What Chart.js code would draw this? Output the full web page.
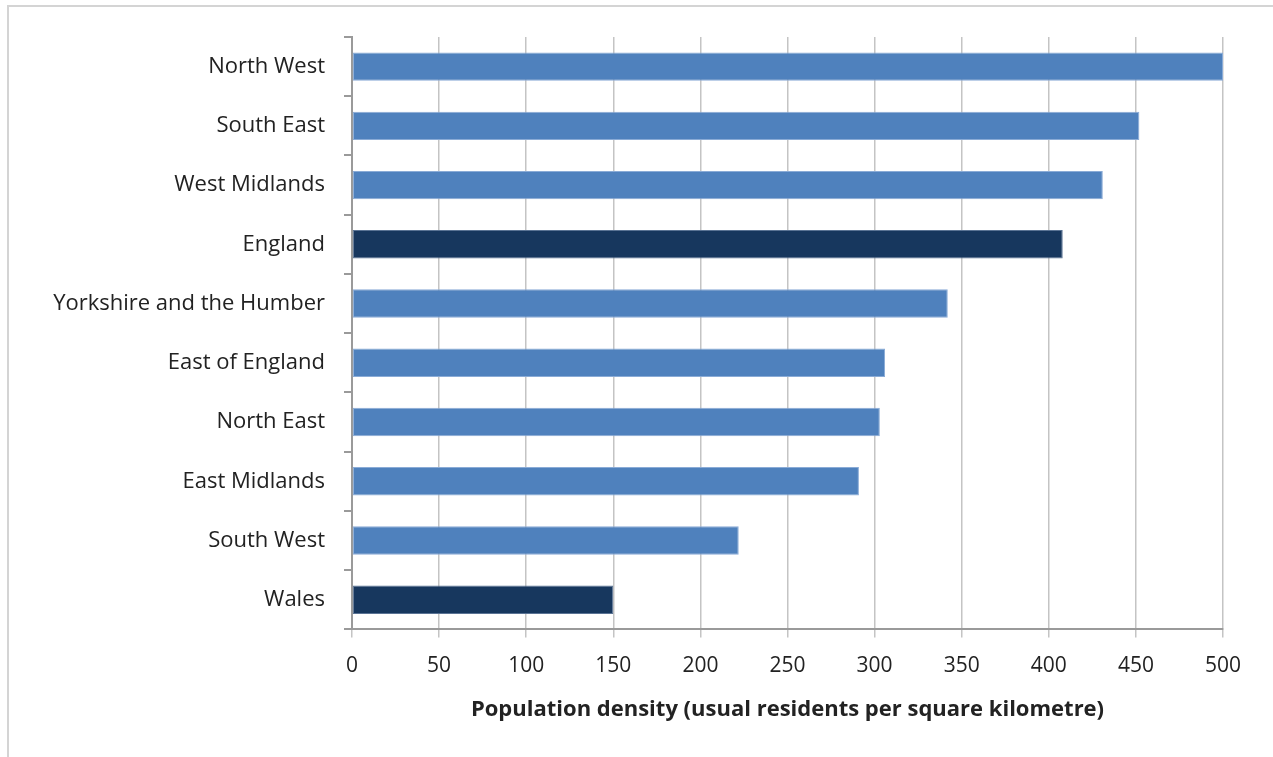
<!DOCTYPE html>
<html>
<head>
<meta charset="utf-8">
<script src="https://cdn.jsdelivr.net/npm/chart.js@4.4.1/dist/chart.umd.min.js"></script>
<style>
  html, body { margin: 0; padding: 0; background: #fff; }
  #frame {
    position: absolute; left: 7px; top: 5px; width: 1300px; height: 800px;
    border-top: 2px solid #d4d4d4; border-left: 2px solid #d4d4d4;
  }
  #wrap { position: absolute; left: 0; top: 0; width: 1273px; height: 757px; }
</style>
</head>
<body>
<div id="frame"></div>
<div id="wrap"><canvas id="densityChart"></canvas></div>
<script>
// Regije i gustoća naseljenosti (stanovnika po km²)
const regions = ['North West', 'South East', 'West Midlands', 'England', 'Yorkshire and the Humber',
  'East of England', 'North East', 'East Midlands', 'South West', 'Wales'];
const density = [500, 452, 431, 408, 342, 306, 303, 291, 222, 150];
const highlighted = ['England', 'Wales'];
const xTicks = [0, 50, 100, 150, 200, 250, 300, 350, 400, 450, 500];

const lightBlue = '#4f81bd';
const darkBlue = '#17375e';

const barColors = regions.map(r => highlighted.includes(r) ? darkBlue : lightBlue);
const borderColors = regions.map(r => highlighted.includes(r) ? '#5a7394' : '#8aabd6');

const font = "'Open Sans', sans-serif";

new Chart(document.getElementById('densityChart'), {
  type: 'bar',
  data: {
    labels: regions,
    datasets: [{
      data: density,
      backgroundColor: barColors,
      borderColor: borderColors,
      borderWidth: 1,
      borderSkipped: false,
      barPercentage: 0.48,
      categoryPercentage: 1
    }]
  },
  options: {
    indexAxis: 'y',
    responsive: true,
    maintainAspectRatio: false,
    animation: false,
    layout: { padding: { top: 37, right: 50, left: 0, bottom: 34 } },
    plugins: {
      legend: { display: false },
      tooltip: { enabled: false }
    },
    scales: {
      x: {
        min: 0,
        max: 500,
        afterBuildTicks: scale => { scale.ticks = xTicks.map(v => ({ value: v })); },
        grid: { color: '#c4c4c4', lineWidth: 1.5, tickLength: 8, drawOnChartArea: true },
        border: { color: '#9a9a9a', width: 2 },
        ticks: { color: '#222', font: { family: font, size: 21 }, padding: 16, maxRotation: 0 },
        title: {
          display: true,
          text: 'Population density (usual residents per square kilometre)',
          color: '#222',
          font: { family: font, size: 22, weight: 'bold' },
          padding: { top: 2, bottom: 0 }
        }
      },
      y: {
        afterFit: scale => { scale.width = 352; },
        grid: { display: true, drawOnChartArea: false, tickLength: 8, color: '#9a9a9a', lineWidth: 2, offset: true },
        border: { color: '#9a9a9a', width: 2 },
        ticks: { color: '#222', font: { family: font, size: 22 }, padding: 19 }
      }
    }
  }
});
</script>
</body>
</html>
